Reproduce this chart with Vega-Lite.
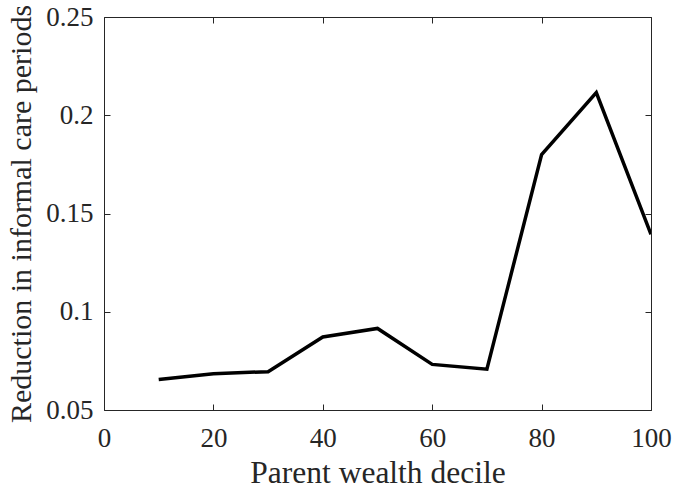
{
  "$schema": "https://vega.github.io/schema/vega-lite/v6.json",
  "autosize": "none",
  "width": 547,
  "height": 393,
  "padding": {"left": 104, "top": 17, "right": 22, "bottom": 77},
  "background": "white",
  "config": {
    "view": {"stroke": null},
    "axis": {
      "grid": false,
      "domainColor": "#262626",
      "domainWidth": 1,
      "tickColor": "#262626",
      "tickWidth": 1,
      "tickSize": -6,
      "labelColor": "#262626",
      "titleColor": "#262626",
      "labelFont": "Liberation Serif",
      "labelFontSize": 27,
      "titleFont": "Liberation Serif",
      "titleFontSize": 30,
      "titleFontWeight": "normal"
    }
  },
  "data": {
    "values": [
      {"decile": 10, "reduction": 0.0655},
      {"decile": 20, "reduction": 0.0685},
      {"decile": 30, "reduction": 0.0695},
      {"decile": 40, "reduction": 0.0872},
      {"decile": 50, "reduction": 0.0915},
      {"decile": 60, "reduction": 0.0732},
      {"decile": 70, "reduction": 0.0708},
      {"decile": 80, "reduction": 0.180},
      {"decile": 90, "reduction": 0.2115},
      {"decile": 100, "reduction": 0.1394}
    ]
  },
  "resolve": {"axis": {"x": "independent", "y": "independent"}},
  "layer": [
    {
      "mark": {"type": "line", "color": "black", "strokeWidth": 3.5, "clip": true},
      "encoding": {
        "x": {
          "field": "decile", "type": "quantitative",
          "scale": {"domain": [0, 100], "nice": false, "zero": false},
          "axis": {"orient": "bottom", "title": "Parent wealth decile", "titleFontSize": 31.5, "values": [0, 20, 40, 60, 80, 100], "labelPadding": 21, "titlePadding": 6, "labelFlush": false, "labelOverlap": false}
        },
        "y": {
          "field": "reduction", "type": "quantitative",
          "scale": {"domain": [0.05, 0.25], "nice": false, "zero": false},
          "axis": {"orient": "left", "title": "Reduction in informal care periods", "values": [0.05, 0.1, 0.15, 0.2, 0.25], "format": "~g", "labelPadding": 17, "titlePadding": 9, "labelFlush": false, "labelOverlap": false}
        }
      }
    },
    {
      "mark": {"type": "line", "strokeOpacity": 0},
      "encoding": {
        "x": {
          "field": "decile", "type": "quantitative",
          "axis": {"orient": "top", "title": null, "labels": false, "values": [0, 20, 40, 60, 80, 100]}
        },
        "y": {
          "field": "reduction", "type": "quantitative",
          "axis": {"orient": "right", "title": null, "labels": false, "values": [0.05, 0.1, 0.15, 0.2, 0.25]}
        }
      }
    }
  ]
}
